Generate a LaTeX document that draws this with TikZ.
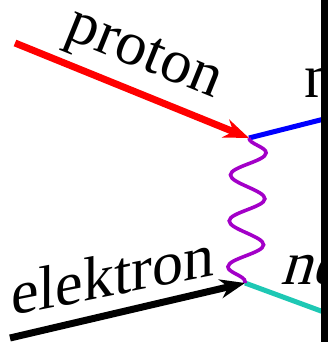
\documentclass[tikz,border=0pt]{standalone}
\usepackage{fontspec}
\setmainfont{Liberation Serif}
\usepackage{tikz}
\usetikzlibrary{arrows.meta,decorations.pathmorphing}
\definecolor{ProtonRed}{HTML}{FF0000}
\definecolor{NeutronBlue}{HTML}{0000FF}
\definecolor{PhotonViolet}{HTML}{A300C8}
\definecolor{NeutrinoTeal}{HTML}{1EC8B4}

\begin{document}
\begin{tikzpicture}[x=1pt, y=-1pt, font=\fontsize{62}{62}\selectfont, >={Stealth[length=25pt,width=19pt,inset=8pt]}]
\tikzset{fermion/.style={->, line width=7pt}, outgoing/.style={line width=5pt}, boson/.style={draw=PhotonViolet, line width=3.6pt, decorate, decoration={snake, segment length=46pt, amplitude=17.5pt}}, lbl/.style={inner sep=0pt}}
\useasboundingbox (0,0) rectangle (328,342);
\clip (0,0) rectangle (328,342);
\coordinate (pin) at (15,43);
\coordinate (ein) at (10,338);
\coordinate (vtop) at (249,138);
\coordinate (vbot) at (245,283);
\coordinate (nout) at (340,115);
\coordinate (nuout) at (340,318);
\draw[outgoing, NeutronBlue] (vtop) -- (nout);
\draw[outgoing, NeutrinoTeal] (vbot) -- (nuout);
\draw[boson] (vtop) -- (vbot);
\draw[fermion, ProtonRed] (pin) -- (vtop);
\draw[fermion, black] (ein) -- (vbot);
\node[lbl, rotate=-22] (plbl) at (143,58) {proton};
\node[lbl, yslant=0.2, anchor=base west] (elbl) at (11,316) {elektron};
\node[lbl, anchor=base west] (nlbl) at (304,97) {neutron};
\node[lbl, xslant=0.3, anchor=base west] (nulbl) at (280,284) {neutrino};
\fill[black] (321,0) rectangle (328,342);
\end{tikzpicture}
\end{document}
